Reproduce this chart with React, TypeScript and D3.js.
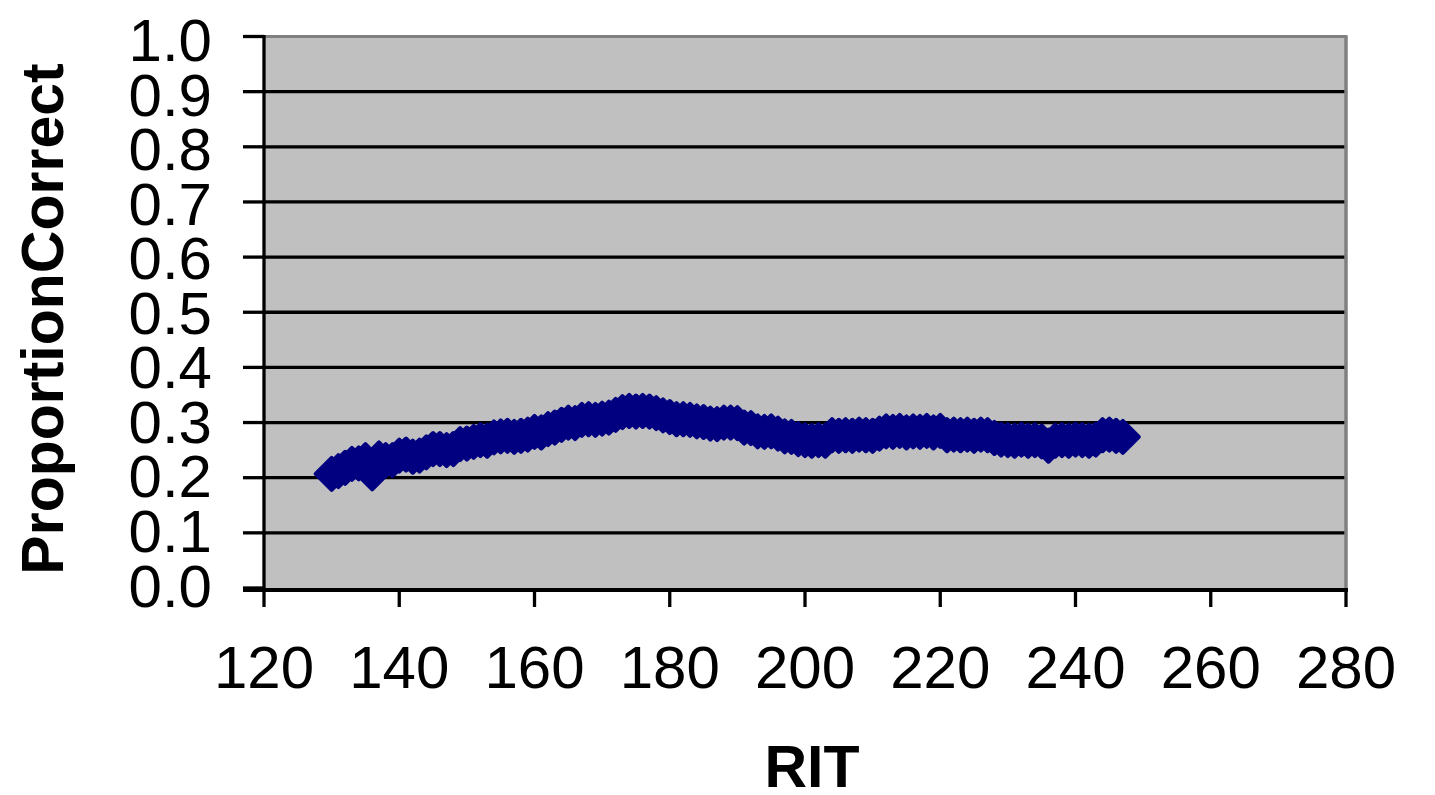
import React from "react";
import * as d3 from "d3";

const ritValues: number[] = d3.range(130, 248);
const proportionCorrect: number[] = [
  0.207, 0.212, 0.218, 0.225, 0.226, 0.232, 0.208, 0.235, 0.232, 0.232,
  0.240, 0.242, 0.238, 0.240, 0.246, 0.252, 0.252, 0.250, 0.252, 0.261,
  0.262, 0.265, 0.268, 0.267, 0.273, 0.275, 0.276, 0.274, 0.276, 0.278,
  0.283, 0.282, 0.288, 0.291, 0.296, 0.300, 0.299, 0.305, 0.306, 0.305,
  0.307, 0.309, 0.314, 0.319, 0.321, 0.320, 0.321, 0.320, 0.317, 0.313,
  0.310, 0.306, 0.306, 0.305, 0.302, 0.301, 0.298, 0.297, 0.300, 0.300,
  0.299, 0.291, 0.290, 0.284, 0.283, 0.284, 0.280, 0.275, 0.274, 0.270,
  0.268, 0.267, 0.268, 0.267, 0.277, 0.276, 0.277, 0.276, 0.278, 0.277,
  0.276, 0.280, 0.284, 0.283, 0.285, 0.282, 0.284, 0.283, 0.285, 0.282,
  0.285, 0.277, 0.278, 0.277, 0.278, 0.276, 0.278, 0.277, 0.272, 0.269,
  0.268, 0.267, 0.269, 0.267, 0.268, 0.266, 0.258, 0.267, 0.268, 0.267,
  0.269, 0.268, 0.267, 0.269, 0.277, 0.278, 0.276, 0.274,
];
const xTicks: number[] = [120, 140, 160, 180, 200, 220, 240, 260, 280];
const yTicks: number[] = [0, 0.1, 0.2, 0.3, 0.4, 0.5, 0.6, 0.7, 0.8, 0.9, 1.0];
const xTitle = "RIT";
const yTitle = "ProportionCorrect";

export default function App() {
  const left = 264, right = 1346, top = 36.5, bottom = 588;
  const x = d3.scaleLinear().domain([120, 280]).range([left, right]);
  const y = d3.scaleLinear().domain([0, 1]).range([bottom, top]);
  const pts = ritValues.map((r, i) => [x(r), y(proportionCorrect[i])] as [number, number]);
  const line = d3.line()(pts) || "";
  const font = "'Liberation Sans', Arial, sans-serif";
  const d = 16;
  const diamond = `M0,${-d}L${d},0L0,${d}L${-d},0Z`;
  return (
    <svg width={1435} height={795} style={{ position: "fixed", left: 0, top: 0, background: "#fff" }}>
      <rect x={left} y={top} width={right - left} height={bottom - top} fill="#C0C0C0" />
      {yTicks.filter((t) => t > 0 && t < 1).map((t) => (
        <line key={t} x1={left} x2={right} y1={y(t)} y2={y(t)} stroke="#000" strokeWidth={3.3} />
      ))}
      <line x1={left} x2={right + 1.5} y1={top} y2={top} stroke="#808080" strokeWidth={3} />
      <line x1={right} x2={right} y1={top} y2={bottom} stroke="#808080" strokeWidth={3.5} />
      <line x1={left} x2={left} y1={top - 1.5} y2={bottom + 4} stroke="#000" strokeWidth={3.3} />
      <line x1={left - 21} x2={right + 2} y1={bottom + 2} y2={bottom + 2} stroke="#000" strokeWidth={4} />
      {yTicks.map((t) => (
        <g key={t}>
          <line x1={left - 21} x2={left} y1={y(t)} y2={y(t)} stroke="#000" strokeWidth={3.3} />
          <text x={212} y={y(t) + 21.5 + (0.5 - t) * -6} textAnchor="end" fontFamily={font} fontSize={60} fill="#000">
            {t.toFixed(1)}
          </text>
        </g>
      ))}
      {xTicks.map((t) => (
        <g key={t}>
          <line x1={x(t)} x2={x(t)} y1={bottom} y2={bottom + 19} stroke="#000" strokeWidth={3.3} />
          <text x={x(t)} y={688} textAnchor="middle" fontFamily={font} fontSize={60} fill="#000">
            {t}
          </text>
        </g>
      ))}
      <path d={line} fill="none" stroke="#000080" strokeWidth={3} />
      {pts.map(([px, py], i) => (
        <path key={i} d={diamond} transform={`translate(${px},${py})`} fill="#000080" stroke="#000080" strokeWidth={4} strokeLinejoin="round" />
      ))}
      <text x={812} y={787} textAnchor="middle" fontFamily={font} fontWeight="bold" fontSize={59} fill="#000">
        {xTitle}
      </text>
      <text transform="translate(63,319) rotate(-90)" textAnchor="middle" fontFamily={font} fontWeight="bold" fontSize={59} fill="#000">
        {yTitle}
      </text>
    </svg>
  );
}
